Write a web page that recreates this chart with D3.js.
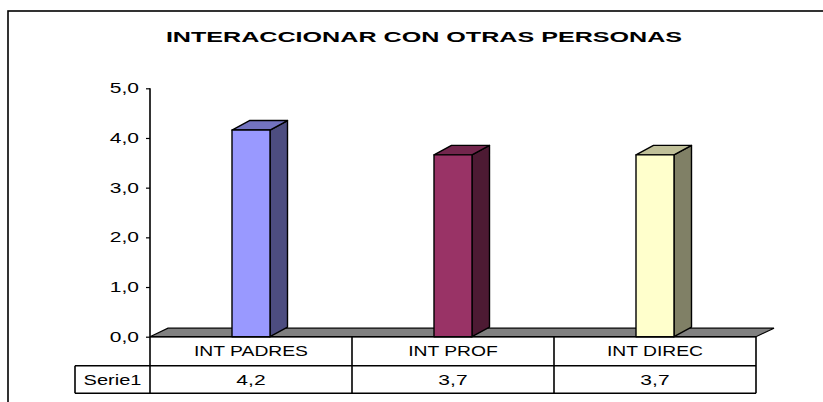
<!DOCTYPE html>
<html>
<head>
<meta charset="utf-8">
<script src="https://cdn.jsdelivr.net/npm/d3@7"></script>
<style>
  html, body { margin: 0; padding: 0; background: #fff; }
  svg { display: block; }
  text { font-family: "Liberation Sans", Arial, sans-serif; fill: #000; }
</style>
</head>
<body>
<svg id="chart" width="823" height="402"></svg>
<script>
// ---- data ----
const title = "INTERACCIONAR CON OTRAS PERSONAS";
const categories = ["INT PADRES", "INT PROF", "INT DIREC"];
const seriesName = "Serie1";
const values = [4.16, 3.66, 3.66];
const yTicks = [0, 1, 2, 3, 4, 5];
const frontColors = ["#9999FF", "#993366", "#FFFFCC"];
const sideColors = ["#4D4D80", "#4D1A33", "#808066"];
const topColors = ["#7373C0", "#73264D", "#C0C099"];

// ---- layout ----
const svg = d3.select("#chart");
const x0 = 150, x1 = 756;
const y = d3.scaleLinear().domain([0, 5]).range([336.7, 88.3]);
const x = d3.scaleBand().domain(categories).range([x0, x1]);
const barW = 38, dx = 17.5, dy = -9.5;
const row1Bottom = 365.7, row2Bottom = 393.3, tableLeft = 75;
const fmt = v => d3.format(".1f")(v).replace(".", ",");

function stretch(sel, factor) {
  sel.each(function () {
    const w = this.getComputedTextLength();
    d3.select(this).attr("textLength", w * factor).attr("lengthAdjust", "spacingAndGlyphs");
  });
}

// frame
svg.append("rect").attr("x", 8).attr("y", 11).attr("width", 900).attr("height", 500)
  .attr("fill", "none").attr("stroke", "#000").attr("stroke-width", 1.6);

// title
const t = svg.append("text").attr("x", 424).attr("y", 41.7).attr("text-anchor", "middle")
  .attr("font-size", 15.5).attr("font-weight", "bold").text(title);
stretch(t, 1.62);

// floor
const y0 = y(0);
svg.append("path")
  .attr("d", `M${x0},${y0} L${x0 + 18},${y0 - 8.5} L${x1 + 18},${y0 - 8.5} L${x1},${y0} Z`)
  .attr("fill", "#808080").attr("stroke", "#000").attr("stroke-width", 1.2);

// bars
const g = svg.append("g");
values.forEach((v, i) => {
  const cx = x(categories[i]) + x.bandwidth() / 2;
  const L = cx - barW / 2, R = cx + barW / 2, T = y(v), B = y(0);
  const bg = g.append("g").attr("stroke", "#000").attr("stroke-width", 1.4).attr("stroke-linejoin", "round");
  bg.append("path").attr("d", `M${R},${B} L${R + dx},${B + dy} L${R + dx},${T + dy} L${R},${T} Z`)
    .attr("fill", sideColors[i]);
  bg.append("path").attr("d", `M${L},${T} L${L + dx},${T + dy} L${R + dx},${T + dy} L${R},${T} Z`)
    .attr("fill", topColors[i]);
  bg.append("rect").attr("x", L).attr("y", T).attr("width", barW).attr("height", B - T)
    .attr("fill", frontColors[i]);
});

// y axis
const axis = svg.append("g").attr("transform", `translate(${x0},0)`)
  .call(d3.axisLeft(y).tickValues(yTicks).tickFormat(fmt).tickSize(4).tickPadding(7));
axis.select(".domain").remove();
axis.selectAll(".tick line").attr("stroke", "#000").attr("stroke-width", 1.2);
axis.selectAll(".tick text").attr("font-size", 14).attr("font-family", "Liberation Sans, Arial, sans-serif")
  .attr("fill", "#000");
stretch(axis.selectAll(".tick text"), 1.5);
svg.append("line").attr("x1", x0).attr("x2", x0).attr("y1", y(5)).attr("y2", row2Bottom)
  .attr("stroke", "#000").attr("stroke-width", 1.6);

// data table
const tl = svg.append("g").attr("stroke", "#000").attr("stroke-width", 1.6);
tl.append("line").attr("x1", x0).attr("x2", x1).attr("y1", y0).attr("y2", y0);
tl.append("line").attr("x1", tableLeft).attr("x2", x1).attr("y1", row1Bottom).attr("y2", row1Bottom);
tl.append("line").attr("x1", tableLeft).attr("x2", x1).attr("y1", row2Bottom).attr("y2", row2Bottom);
tl.append("line").attr("x1", tableLeft).attr("x2", tableLeft).attr("y1", row1Bottom).attr("y2", row2Bottom);
categories.forEach((c, i) => {
  const xr = x(c) + x.bandwidth();
  tl.append("line").attr("x1", xr).attr("x2", xr).attr("y1", y0).attr("y2", row2Bottom);
});

const catText = svg.append("g").selectAll("text").data(categories).join("text")
  .attr("x", d => x(d) + x.bandwidth() / 2).attr("y", (y0 + row1Bottom) / 2)
  .attr("dy", "0.36em").attr("text-anchor", "middle").attr("font-size", 14.5).text(d => d);
stretch(catText, 1.33);

const valText = svg.append("g").selectAll("text").data(values).join("text")
  .attr("x", (d, i) => x(categories[i]) + x.bandwidth() / 2).attr("y", (row1Bottom + row2Bottom) / 2)
  .attr("dy", "0.36em").attr("text-anchor", "middle").attr("font-size", 14.5).text(d => fmt(d));
stretch(valText, 1.45);

const sn = svg.append("text").attr("x", (tableLeft + x0) / 2).attr("y", (row1Bottom + row2Bottom) / 2)
  .attr("dy", "0.36em").attr("text-anchor", "middle").attr("font-size", 14.5).text(seriesName);
stretch(sn, 1.38);
</script>
</body>
</html>
